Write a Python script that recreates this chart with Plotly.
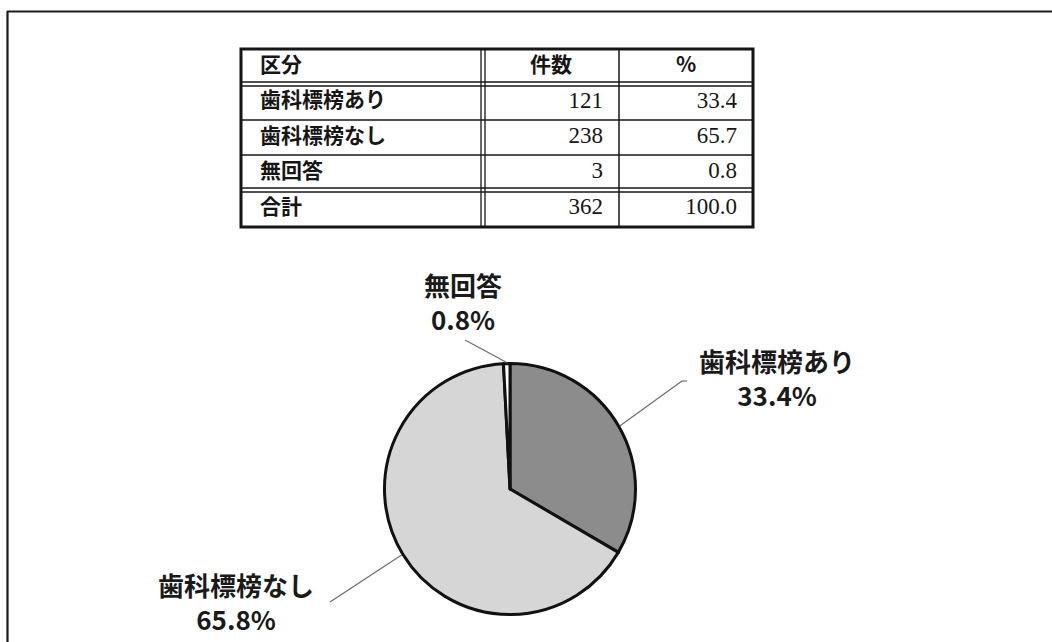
import math
import plotly.graph_objects as go

# ---------------- data ----------------
header = ["区分", "件数", "%"]
categories = ["歯科標榜あり", "歯科標榜なし", "無回答"]
counts = [121, 238, 3]
table_pct = [33.4, 65.7, 0.8]
total_label = "合計"
total_count = 362
total_pct = 100.0
pie_pct_labels = [33.4, 65.8, 0.8]   # percentages as printed beside the pie

# ---------------- layout constants ----------------
W, H = 1052, 642
JP = "Noto Sans CJK JP"
SERIF = "Liberation Serif"
INK = "#161616"

# table geometry (pixels)
col_x = [241, 483, 619, 753]
row_y = [49, 84, 120, 155, 190, 227]

# pie geometry (pixels)
cx, cy, r = 510, 489, 125.5
slice_colors = ["#8c8c8c", "#d6d6d6", "#ffffff"]
label_anchor = [(777, 377), (236, 601), (463, 301)]
leader_outer = [(682, 381), (330, 602), (465, 340)]

fig = go.Figure()

# ---------- table text through the pixel-scaled axes ----------
rows_text = [[c, str(n), f"{p:.1f}"] for c, n, p in zip(categories, counts, table_pct)]
rows_text.append([total_label, str(total_count), f"{total_pct:.1f}"])
row_mid = [(row_y[i] + row_y[i + 1]) / 2 for i in range(len(row_y) - 1)]

jp_font = dict(family=JP, size=21, color=INK, weight="bold")

# header
fig.add_trace(go.Scatter(
    x=[col_x[0] + 19, (col_x[1] + col_x[2]) / 2, (col_x[2] + col_x[3]) / 2],
    y=[row_mid[0]] * 3, mode="text", text=header,
    textposition=["middle right", "middle center", "middle center"],
    textfont=jp_font, hoverinfo="skip"))
# first column labels
fig.add_trace(go.Scatter(
    x=[col_x[0] + 19] * len(rows_text), y=row_mid[1:], mode="text",
    text=[rw[0] for rw in rows_text], textposition="middle right",
    textfont=jp_font, hoverinfo="skip"))
# numeric columns
for ci in (1, 2):
    fig.add_trace(go.Scatter(
        x=[col_x[ci + 1] - 16] * len(rows_text), y=row_mid[1:], mode="text",
        text=[rw[ci] for rw in rows_text], textposition="middle left",
        textfont=dict(family=SERIF, size=23, color=INK), hoverinfo="skip"))

shapes = []
def line(x0, y0, x1, y1, w=1.5, color=INK):
    shapes.append(dict(type="line", xref="x", yref="y", x0=x0, y0=y0, x1=x1, y1=y1,
                       line=dict(color=color, width=w)))

# outer frame of the page (top and left)
line(7, 11.5, W + 5, 11.5, 2.2, "#1c1c1c")
line(7.5, 11, 7.5, H + 5, 2.2, "#1c1c1c")

# table grid
T, B = row_y[0], row_y[-1]
L, R = col_x[0], col_x[-1]
for y in (row_y[2], row_y[3]):
    line(L, y, R, y, 1.5)
for y in (row_y[1], row_y[4]):
    line(L, y - 2, R, y - 2, 1.3)
    line(L, y + 2, R, y + 2, 1.3)
line(col_x[1] - 2, T, col_x[1] - 2, B, 1.3)
line(col_x[1] + 2, T, col_x[1] + 2, B, 1.3)
line(col_x[2], T, col_x[2], B, 1.5)
shapes.append(dict(type="rect", xref="x", yref="y", x0=L, y0=T, x1=R, y1=B,
                   line=dict(color=INK, width=3)))

# ---------- pie ----------
total = sum(counts)
fig.add_trace(go.Pie(
    labels=categories, values=counts, sort=False, direction="clockwise", rotation=0,
    textinfo="none", hoverinfo="label+percent",
    marker=dict(colors=slice_colors, line=dict(color="#111111", width=3)),
    domain=dict(x=[(cx - r) / W, (cx + r) / W], y=[(H - cy - r) / H, (H - cy + r) / H]),
    showlegend=False))

annotations = []
cum = 0
for i, (cat, v, p) in enumerate(zip(categories, counts, pie_pct_labels)):
    mid = (cum + v / 2) / total * 2 * math.pi
    cum += v
    ex, ey = cx + (r + 1) * math.sin(mid), cy - (r + 1) * math.cos(mid)
    ox, oy = leader_outer[i]
    line(ex, ey, ox, oy, 1.1, "#6a6a6a")
    ax_, ay_ = label_anchor[i]
    annotations.append(dict(x=ax_, y=ay_, xref="x", yref="y", showarrow=False,
                            text=f"{cat}<br>{p:.1f}%", align="center",
                            font=dict(family=JP, size=26, color="#1a1a1a", weight="bold")))
line(leader_outer[0][0], leader_outer[0][1], leader_outer[0][0] + 5, leader_outer[0][1], 1.1, "#6a6a6a")

fig.update_layout(
    width=W, height=H, margin=dict(l=0, r=0, t=0, b=0),
    paper_bgcolor="white", plot_bgcolor="white", showlegend=False,
    xaxis=dict(range=[0, W], visible=False, fixedrange=True, domain=[0, 1]),
    yaxis=dict(range=[H, 0], visible=False, fixedrange=True, domain=[0, 1]),
    shapes=shapes, annotations=annotations,
)

fig.write_html("out.html", config={"displayModeBar": False})
